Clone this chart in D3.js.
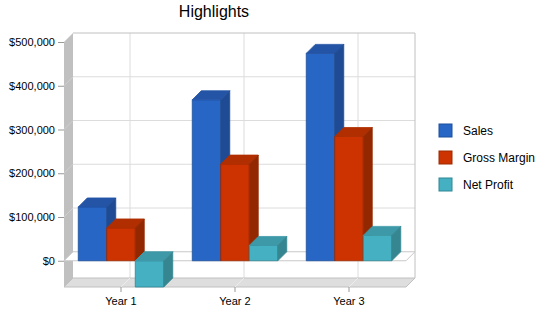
<!DOCTYPE html>
<html>
<head>
<meta charset="utf-8">
<script src="https://cdn.jsdelivr.net/npm/d3@7"></script>
<style>
  body { margin: 0; background: #fff; }
  svg { font-family: "Liberation Sans", Arial, sans-serif; }
</style>
</head>
<body>
<div id="chart"></div>
<script>
const years = ['Year 1', 'Year 2', 'Year 3'];
const seriesNames = ['Sales', 'Gross Margin', 'Net Profit'];
const sales = [123000, 368000, 474000];
const grossMargin = [75000, 221000, 284000];
const netProfit = [-60000, 35000, 58000];
const yTicks = [0, 100000, 200000, 300000, 400000, 500000];

// front / top / side shades per series
const colors = [
  {front: '#2766c5', top: '#2454a6', side: '#1e4b93', line: '#1d4f9c'},
  {front: '#cc3300', top: '#b02e00', side: '#932800', line: '#9c2a00'},
  {front: '#45b0c2', top: '#3d99a8', side: '#358690', line: '#2f8794'}
];

const width = 550, height = 318;
const depth = 9;
const plot = {left: 64, right: 406, top: 42, bottom: 287};

const svg = d3.select('#chart').append('svg').attr('width', width).attr('height', height);

const x0 = d3.scaleBand().domain(years).range([plot.left, plot.right]);
const x1 = d3.scaleBand().domain(seriesNames).range([0, x0.bandwidth()]).paddingOuter(0.5);
const y = d3.scaleLinear().domain([-60000, 500000]).range([plot.bottom, plot.top]);

const poly = pts => 'M' + pts.map(p => p.join(',')).join('L') + 'Z';

// back wall
svg.append('rect')
  .attr('x', plot.left + depth).attr('y', plot.top - depth)
  .attr('width', plot.right - plot.left).attr('height', plot.bottom - plot.top)
  .attr('fill', '#fff');

// back wall grid
svg.append('g').selectAll('line').data(yTicks.slice(1, -1)).join('line')
  .attr('x1', plot.left + depth).attr('x2', plot.right + depth)
  .attr('y1', d => y(d) - depth).attr('y2', d => y(d) - depth)
  .attr('stroke', '#dcdcdc');
svg.append('g').selectAll('line').data(years).join('line')
  .attr('x1', d => x0(d) + x0.bandwidth() / 2 + depth).attr('x2', d => x0(d) + x0.bandwidth() / 2 + depth)
  .attr('y1', plot.top - depth).attr('y2', plot.bottom - depth)
  .attr('stroke', '#dcdcdc');

// back wall border (top + right)
svg.append('path')
  .attr('d', `M${plot.left + depth},${plot.top - depth}H${plot.right + depth}V${plot.bottom - depth}`)
  .attr('fill', 'none').attr('stroke', '#c0c0c0');

// left wall
svg.append('path')
  .attr('d', poly([[plot.left, plot.top], [plot.left + depth, plot.top - depth], [plot.left + depth, plot.bottom - depth], [plot.left, plot.bottom]]))
  .attr('fill', '#c0c0c0');
svg.append('g').selectAll('line').data(yTicks.slice(1, -1)).join('line')
  .attr('x1', plot.left).attr('x2', plot.left + depth)
  .attr('y1', d => y(d)).attr('y2', d => y(d) - depth)
  .attr('stroke', '#cfcfcf');

// floor
svg.append('path')
  .attr('d', poly([[plot.left, plot.bottom], [plot.left + depth, plot.bottom - depth], [plot.right + depth, plot.bottom - depth], [plot.right, plot.bottom]]))
  .attr('fill', '#dedede').attr('stroke', '#c0c0c0');
svg.append('g').selectAll('line').data(years).join('line')
  .attr('x1', d => x0(d) + x0.bandwidth() / 2).attr('x2', d => x0(d) + x0.bandwidth() / 2 + depth)
  .attr('y1', plot.bottom).attr('y2', plot.bottom - depth)
  .attr('stroke', '#ececec');

// zero plane
svg.append('path')
  .attr('d', poly([[plot.left, y(0)], [plot.left + depth, y(0) - depth], [plot.right + depth, y(0) - depth], [plot.right, y(0)]]))
  .attr('fill', '#fff').attr('stroke', '#c8c8c8');

// bars
const data = [];
years.forEach((yr, i) => {
  [sales, grossMargin, netProfit].forEach((arr, s) => {
    data.push({year: yr, series: seriesNames[s], s: s, value: arr[i]});
  });
});

const bars = svg.append('g').selectAll('g').data(data).join('g');
bars.each(function(d) {
  const g = d3.select(this);
  const c = colors[d.s];
  const xl = x0(d.year) + x1(d.series);
  const xr = xl + x1.bandwidth();
  const yt = y(Math.max(0, d.value));
  const yb = y(Math.min(0, d.value));
  g.append('path')
    .attr('d', poly([[xl, yt], [xr, yt], [xr, yb], [xl, yb]]))
    .attr('fill', c.front).attr('stroke', c.line).attr('stroke-width', 0.8);
  g.append('path')
    .attr('d', poly([[xl, yt], [xl + depth, yt - depth], [xr + depth, yt - depth], [xr, yt]]))
    .attr('fill', c.top).attr('stroke', c.top).attr('stroke-width', 0.8);
  g.append('path')
    .attr('d', poly([[xr, yt], [xr + depth, yt - depth], [xr + depth, yb - depth], [xr, yb]]))
    .attr('fill', c.side).attr('stroke', c.side).attr('stroke-width', 0.8);
});

// y axis
const yAxis = svg.append('g').attr('transform', `translate(${plot.left},0)`)
  .call(d3.axisLeft(y).tickValues(yTicks).tickFormat(d3.format('$,')).tickSize(6).tickPadding(3));
yAxis.select('.domain').remove();
yAxis.selectAll('line').attr('stroke', '#999');
yAxis.selectAll('text').attr('font-size', 11).attr('fill', '#000').attr('font-family', '"Liberation Sans", Arial, sans-serif');

// x axis
const xAxis = svg.append('g').attr('transform', `translate(0,${plot.bottom})`)
  .call(d3.axisBottom(x0).tickSize(5).tickPadding(5));
xAxis.select('.domain').remove();
xAxis.selectAll('line').attr('stroke', '#999');
xAxis.selectAll('text').attr('font-size', 11).attr('fill', '#000').attr('font-family', '"Liberation Sans", Arial, sans-serif');

// title
svg.append('text').attr('x', 214).attr('y', 17).attr('text-anchor', 'middle')
  .attr('font-size', 16).text('Highlights');

// legend
const legend = svg.append('g').selectAll('g').data(seriesNames).join('g')
  .attr('transform', (d, i) => `translate(439,${124 + i * 27})`);
legend.append('rect').attr('width', 13).attr('height', 13)
  .attr('fill', (d, i) => colors[i].front).attr('stroke', (d, i) => colors[i].line);
legend.append('text').attr('x', 24).attr('y', 7).attr('dy', '0.35em')
  .attr('font-size', 12).text(d => d);
</script>
</body>
</html>
